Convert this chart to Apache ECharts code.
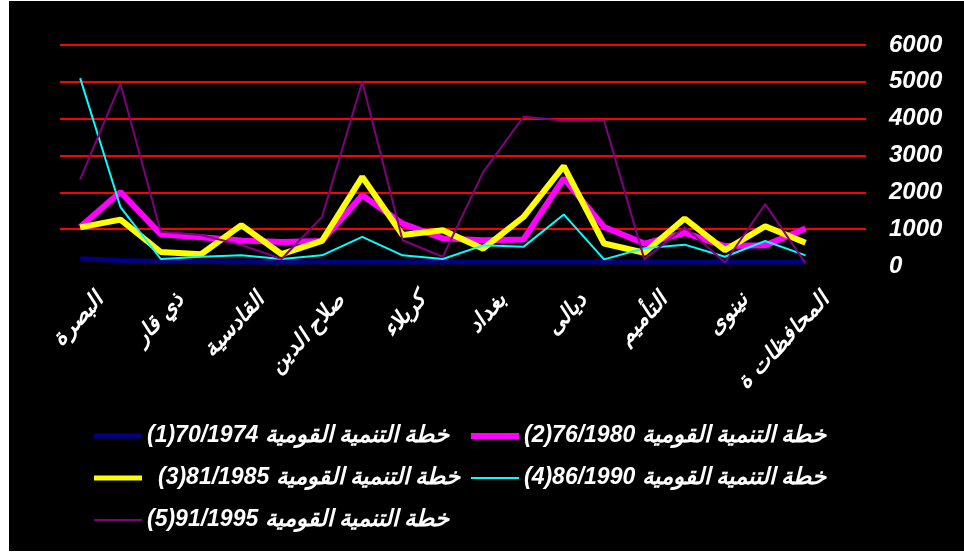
<!DOCTYPE html>
<html>
<head>
<meta charset="utf-8">
<script src="https://cdn.jsdelivr.net/npm/echarts@6/dist/echarts.min.js"></script>
<style>
  html, body { margin: 0; padding: 0; background: #ffffff; }
  #chart { position: absolute; left: 9px; top: 1px; width: 955px; height: 550px; background: #000000; }
</style>
</head>
<body>
<div id="chart"></div>
<script>
// Categories (governorates); only every other label is shown, as in the reference
const categories = ['البصرة', 'ميسان', 'ذي قار', 'المثنى', 'القادسية', 'النجف', 'صلاح الدين', 'الأنبار',
  'كربلاء', 'بابل', 'بغداد', 'واسط', 'ديالى', 'السليمانية', 'التأميم', 'أربيل', 'نينوى', 'دهوك', 'المحافظات ة', ''];

const seriesNames = [
  '(1)70/1974 خطة التنمية القومية',
  '(2)76/1980 خطة التنمية القومية',
  ' \u2009(3)81/1985 خطة التنمية القومية',
  '(4)86/1990 خطة التنمية القومية',
  '(5)91/1995 خطة التنمية القومية'
];

const plan1 = [200, 150, 120, 120, 110, 110, 110, 110, 110, 110, 110, 110, 110, 110, 110, 110, 110, 110, 110, null];
const plan2 = [1060, 2010, 860, 780, 690, 650, 680, 1920, 1150, 750, 700, 720, 2380, 1060, 610, 900, 540, 560, 1020, null];
const plan3 = [1050, 1260, 380, 320, 1110, 320, 680, 2420, 840, 970, 470, 1330, 2710, 610, 360, 1290, 430, 1080, 630, null];
const plan4 = [5100, 1600, 190, 250, 290, 190, 290, 790, 290, 190, 560, 520, 1400, 180, 480, 580, 250, 680, 290, null];
const plan5 = [2350, 4950, 930, 840, 570, 190, 1330, 5000, 700, 250, 2550, 4050, 3950, 3950, 180, 1060, 95, 1680, 70, null];

const yTicks = [0, 1000, 2000, 3000, 4000, 5000, 6000];

const colors = ['#000080', '#FF00FF', '#FFFF00', '#00FFFF', '#800080'];
const widths = [5, 6, 6, 2, 2];
const iconHeights = [5, 6, 5, 2, 2];
const values = [plan1, plan2, plan3, plan4, plan5];

const font = "'Liberation Sans', 'DejaVu Sans', Arial, sans-serif";

function legendItem(i) {
  return { name: seriesNames[i], icon: 'path://M0,0H48V' + iconHeights[i] + 'H0Z' };
}
const legendText = { color: '#ffffff', fontSize: 23, fontWeight: 'bold', fontStyle: 'italic', fontFamily: font, lineHeight: 24 };

const chart = echarts.init(document.getElementById('chart'));
chart.setOption({
  backgroundColor: '#000000',
  animation: false,
  grid: { left: 51, right: 98, top: 44, bottom: 285, outerBoundsMode: 'none', containLabel: false },
  xAxis: {
    type: 'category',
    data: categories,
    boundaryGap: true,
    axisLine: { show: false },
    axisTick: { show: false },
    splitLine: { show: false },
    axisLabel: {
      interval: 1,
      rotate: 47,
      margin: 52,
      padding: [0, -29, 0, 0],
      color: '#ffffff',
      fontSize: 22,
      fontWeight: 'bold',
      fontStyle: 'italic',
      fontFamily: font
    }
  },
  yAxis: {
    type: 'value',
    position: 'right',
    min: yTicks[0],
    max: yTicks[yTicks.length - 1],
    interval: 1000,
    axisLine: { show: false },
    axisTick: { show: false },
    splitLine: { show: true, showMinLine: false, lineStyle: { color: '#FF0000', width: 2 } },
    axisLabel: {
      margin: 23,
      align: 'left',
      formatter: v => String(v),
      color: '#ffffff',
      fontSize: 24,
      fontWeight: 'bold',
      fontStyle: 'italic',
      fontFamily: font
    }
  },
  legend: [
    {
      data: [legendItem(0), legendItem(2), legendItem(4)],
      orient: 'vertical',
      left: 80, top: 418,
      itemWidth: 48, itemHeight: 20, itemGap: 18,
      symbolKeepAspect: true,
      textStyle: legendText
    },
    {
      data: [legendItem(1), legendItem(3)],
      orient: 'vertical',
      left: 457, top: 418,
      itemWidth: 48, itemHeight: 20, itemGap: 18,
      symbolKeepAspect: true,
      textStyle: legendText
    }
  ],
  series: values.map((v, i) => ({
    name: seriesNames[i],
    type: 'line',
    data: v,
    symbol: 'none',
    showSymbol: false,
    color: colors[i],
    lineStyle: { color: colors[i], width: widths[i] },
    z: 2 + i
  }))
});
</script>
</body>
</html>
